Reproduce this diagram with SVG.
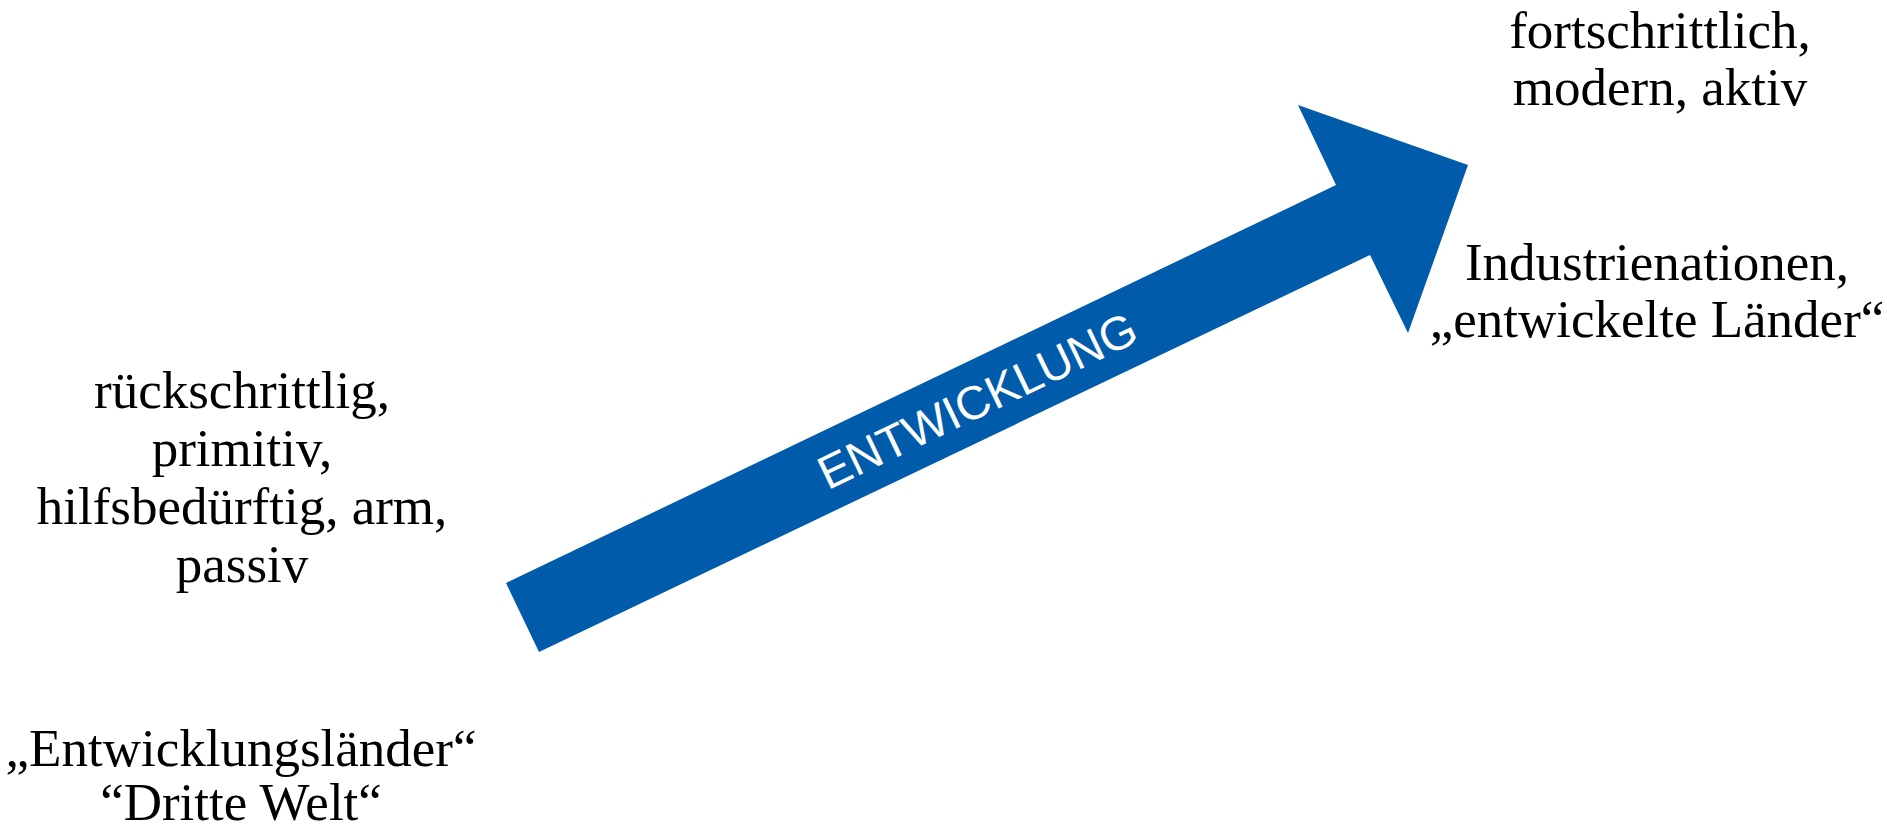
<svg xmlns="http://www.w3.org/2000/svg" width="1887" height="828" viewBox="0 0 1887 828">
<style>
.lbl{font-family:"Liberation Serif","Times New Roman",serif;font-size:53px;fill:#000;text-anchor:middle}
.arrowlbl{font-family:"Liberation Sans",Arial,sans-serif;font-size:47px;fill:#fff;text-anchor:middle}
.arrow{fill:#005BAA}
</style>
<rect width="1887" height="828" fill="#fff"/>
<g id="connectors">
<polygon class="arrow" points="506,583 1336,185 1298,105 1468,165 1408,333 1370,255 539,652"/>
<text class="arrowlbl" transform="translate(977,400) rotate(-25.62)" x="0" y="17">ENTWICKLUNG</text>
</g>
<g id="node-top-right">
<text class="lbl" x="1660" y="48">fortschrittlich,</text>
<text class="lbl" x="1660" y="105">modern, aktiv</text>
</g>
<g id="node-right">
<text class="lbl" x="1657" y="280">Industrienationen,</text>
<text class="lbl" x="1657" y="337">„entwickelte Länder“</text>
</g>
<g id="node-left">
<text class="lbl" x="242" y="408">rückschrittlig,</text>
<text class="lbl" x="242" y="466">primitiv,</text>
<text class="lbl" x="242" y="524">hilfsbedürftig, arm,</text>
<text class="lbl" x="242" y="582">passiv</text>
</g>
<g id="node-bottom-left">
<text class="lbl" x="241" y="766">„Entwicklungsländer“</text>
<text class="lbl" x="241" y="820">“Dritte Welt“</text>
</g>
</svg>
